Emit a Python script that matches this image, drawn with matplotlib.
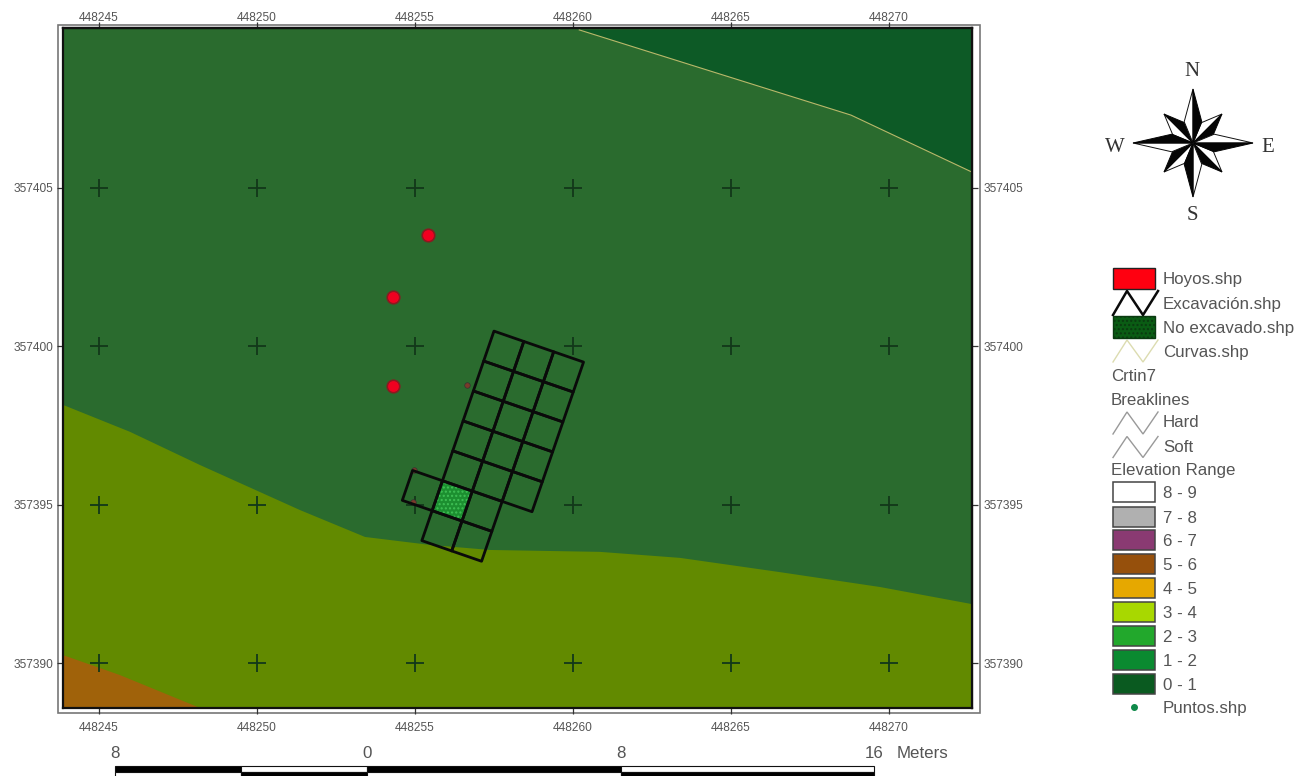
import numpy as np
import matplotlib
matplotlib.use("Agg")
import matplotlib.pyplot as plt
from matplotlib.patches import Rectangle, Polygon

plt.rcParams['font.family'] = ['Liberation Sans', 'DejaVu Sans']

# ---- map data (projected metres) ----
x_ticks = [448245, 448250, 448255, 448260, 448265, 448270]
y_ticks = [357390, 357395, 357400, 357405]
x_range = (448243.86, 448272.63)
y_range = (357388.58, 357410.05)

dark_x = [448260.2, 448264.0, 448268.8, 448272.63]
dark_y = [357409.99, 357408.8, 357407.3, 357405.5]

olive_x = [448243.86, 448245.98, 448248.2, 448251.36, 448253.42, 448255.47,
           448257.37, 448260.85, 448263.39, 448266.55, 448269.72, 448272.63]
olive_y = [357398.15, 357397.3, 357396.25, 357394.83, 357393.98, 357393.73,
           357393.57, 357393.51, 357393.32, 357392.87, 357392.4, 357391.86]

brown_x = [448243.86, 448245.66, 448248.2]
brown_y = [357390.25, 357389.62, 357388.58]

hoyos_x = [448255.41, 448254.30, 448254.30]
hoyos_y = [357403.52, 357401.56, 357398.75]

puntos_x = [448256.65, 448254.97, 448254.94]
puntos_y = [357398.78, 357396.10, 357395.08]

grid_origin = (448257.5, 357400.48)
grid_u = (0.945, -0.326)
grid_v = (-0.326, -0.945)
grid_cells = [(c, r) for r in range(5) for c in range(3)] + \
             [(-1, 5), (0, 5), (1, 5), (0, 6), (1, 6)]
unexcavated_cell = (0, 5)

# ---- legend content ----
legend_layers = ["Hoyos.shp", "Excavación.shp", "No excavado.shp", "Curvas.shp"]
elev_labels = ["8 - 9", "7 - 8", "6 - 7", "5 - 6", "4 - 5", "3 - 4", "2 - 3", "1 - 2", "0 - 1"]
elev_colors = ["#ffffff", "#b0b0b0", "#8a3a72", "#96500c", "#e6a800",
               "#a8d800", "#22a82c", "#0a8a30", "#0a5a20"]
elev_centers = [492, 517, 540, 564, 588, 612, 636, 660, 684]

# ---- colours ----
C_MAIN = "#2a6b2e"
C_DARK = "#0d5a26"
C_OLIVE = "#628a00"
C_BROWN = "#a0620a"
C_TXT = "#555555"

W, H = 1297, 776
fig = plt.figure(figsize=(W / 100, H / 100), dpi=100, facecolor="white")

# overlay for layout furniture (pixel coordinates)
ov = fig.add_axes([0, 0, 1, 1], zorder=0)
ov.set_xlim(0, W)
ov.set_ylim(H, 0)
ov.axis("off")
ov.add_patch(Rectangle((58, 25), 922, 688, fc="white", ec="#777777", lw=1.2))

ax = fig.add_axes([63 / W, (H - 708) / H, 909 / W, 680 / H], zorder=1)
ax.set_xlim(*x_range)
ax.set_ylim(*y_range)
ax.set_facecolor(C_MAIN)
for s in ax.spines.values():
    s.set_linewidth(1.6)
    s.set_color("#111111")

ax.fill(dark_x + [x_range[1]], dark_y + [y_range[1]], color=C_DARK, lw=0)
ax.plot(dark_x, dark_y, color="#b9b86a", lw=0.8)
ax.fill(olive_x + [x_range[1], x_range[0]], olive_y + [y_range[0], y_range[0]], color=C_OLIVE, lw=0)
ax.fill(brown_x + [brown_x[0]], brown_y + [brown_y[-1]], color=C_BROWN, lw=0)

# graticule crosses
gx, gy = np.meshgrid(x_ticks, y_ticks)
ax.plot(gx.ravel(), gy.ravel(), "+", color="#12381a", ms=13, mew=1.3, ls="none", zorder=3)


def cell_poly(c, r):
    o = np.array(grid_origin)
    u = np.array(grid_u)
    v = np.array(grid_v)
    return [o + c * u + r * v, o + (c + 1) * u + r * v,
            o + (c + 1) * u + (r + 1) * v, o + c * u + (r + 1) * v]


ax.add_patch(Polygon(cell_poly(*unexcavated_cell), fc="#1c8f30", ec="#3fc055", lw=0,
                     hatch="....", zorder=4))
for c, r in grid_cells:
    ax.add_patch(Polygon(cell_poly(c, r), fc="none", ec="#0a0a0a", lw=2.0,
                         joinstyle="round", zorder=5))

ax.plot(puntos_x, puntos_y, "o", color="#7a3a2a", ms=4, mec="#333333", mew=0.5, ls="none", zorder=4)
ax.plot(hoyos_x, hoyos_y, "o", color="#f00020", ms=9, mec="#8a1a20", mew=1.2, ls="none", zorder=6)

LABEL_FS = 8.6
TICK_LEN = 4
ax.set_xticks(x_ticks)
ax.set_yticks(y_ticks)
ax.set_xticklabels([str(v) for v in x_ticks])
ax.set_yticklabels([str(v) for v in y_ticks])
ax.tick_params(axis="both", direction="out", length=TICK_LEN, width=0.9, color="#333333",
               labelsize=LABEL_FS, labelcolor=C_TXT)
ax.tick_params(axis="x", pad=6)
ax.tick_params(axis="y", pad=3)

sec_x = ax.secondary_xaxis("top")
sec_x.set_xticks(x_ticks)
sec_x.set_xticklabels([str(v) for v in x_ticks])
sec_x.tick_params(direction="out", length=TICK_LEN, width=0.9, color="#333333",
                  labelsize=LABEL_FS, labelcolor=C_TXT, pad=-1)
sec_y = ax.secondary_yaxis("right")
sec_y.set_yticks(y_ticks)
sec_y.set_yticklabels([str(v) for v in y_ticks])
sec_y.tick_params(direction="out", length=TICK_LEN, width=0.9, color="#333333",
                  labelsize=LABEL_FS, labelcolor=C_TXT, pad=4)
for sec in (sec_x, sec_y):
    for s in sec.spines.values():
        s.set_linewidth(1.6)
        s.set_color("#111111")

# ---- north arrow ----
cx, cy = 1193, 143


def arm(angle_deg, length, base, z):
    a = np.radians(angle_deg)
    tip = (cx + length * np.sin(a), cy - length * np.cos(a))
    al = a + np.radians(22.5)
    ar = a - np.radians(22.5)
    cw = (cx + base * np.sin(al), cy - base * np.cos(al))
    ccw = (cx + base * np.sin(ar), cy - base * np.cos(ar))
    ov.add_patch(Polygon([(cx, cy), tip, ccw], fc="white", ec="#111111", lw=0.7, zorder=z))
    ov.add_patch(Polygon([(cx, cy), tip, cw], fc="#050505", ec="#050505", lw=0.7, zorder=z))


for ang in [45, 135, 225, 315]:
    arm(ang, 41, 22, 3)
for ang, ln in [(0, 54), (90, 60), (180, 54), (270, 60)]:
    arm(ang, ln, 23, 4)

for letter, lx, ly in [("N", 1192, 72), ("S", 1192, 215), ("W", 1115, 147), ("E", 1268, 148)]:
    ov.text(lx, ly, letter, family="Liberation Serif", fontsize=15, color="#333333",
            ha="center", va="center")

# ---- legend ----
SX0, SX1, TX = 1113, 1155, 1163
FS = 12.2


def zigzag(yc, amp, color, lw):
    ov.plot([1113, 1127, 1143, 1158], [yc + amp, yc - amp, yc + amp, yc - amp], color=color, lw=lw,
            solid_joinstyle="miter", zorder=2)


def ltext(x, y, s):
    ov.text(x, y, s, fontsize=FS, color=C_TXT, ha="left", va="center_baseline", zorder=5)


zigzag(303, 12, "#0a0a0a", 1.8)
ov.add_patch(Rectangle((SX0, 268), SX1 - SX0, 21, fc="#ff0010", ec="#222222", lw=1.0, zorder=3))
ov.add_patch(Rectangle((SX0, 316), SX1 - SX0, 22, fc="#0a5c14", ec="#0a3a10", lw=1.0, hatch="....", zorder=3))
zigzag(351, 11, "#dcdcb0", 1.0)
zigzag(423, 11, "#999999", 1.0)
zigzag(447, 10.5, "#999999", 1.0)
for yy, s in zip([278, 303, 327, 351], legend_layers):
    ltext(TX, yy, s)
ltext(1111, 375, "Crtin7")
ltext(1111, 399, "Breaklines")
ltext(TX, 421, "Hard")
ltext(TX, 446, "Soft")
ltext(1111, 469, "Elevation Range")
for yc, col, lab in zip(elev_centers, elev_colors, elev_labels):
    ov.add_patch(Rectangle((SX0, yc - 10), SX1 - SX0, 20, fc=col, ec="#444444", lw=1.1, zorder=3))
    ltext(TX, yc, lab)
ov.plot([1134], [707], "o", color="#0f8a4a", ms=4, zorder=3)
ltext(TX, 707, "Puntos.shp")

# ---- scale bar ----
seg_edges = [115, 241, 367, 621, 874]
for i in range(4):
    x0, x1 = seg_edges[i], seg_edges[i + 1]
    top, bot = ("#000000", "#ffffff") if i % 2 == 0 else ("#ffffff", "#000000")
    ov.add_patch(Rectangle((x0, 766), x1 - x0, 6, fc=top, ec="#111111", lw=0.8))
    ov.add_patch(Rectangle((x0, 772), x1 - x0, 6, fc=bot, ec="#111111", lw=0.8))
for sx, s in zip([115, 367, 621, 874], ["8", "0", "8", "16"]):
    ov.text(sx, 752, s, fontsize=FS, color=C_TXT, ha="center", va="center_baseline")
ov.text(897, 752, "Meters", fontsize=FS, color=C_TXT, ha="left", va="center_baseline")

fig.savefig("out.png", dpi=100, facecolor="white")
